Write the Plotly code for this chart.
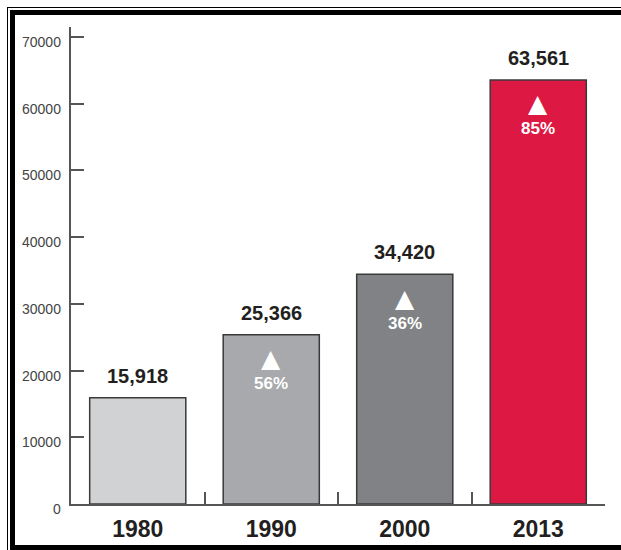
import plotly.graph_objects as go

years = ["1980", "1990", "2000", "2013"]
values = [15918, 25366, 34420, 63561]
value_labels = ["15,918", "25,366", "34,420", "63,561"]
pct_labels = ["", "56%", "36%", "85%"]
bar_colors = ["#d1d2d4", "#a7a9ac", "#808285", "#dc1843"]
ytick_vals = [0, 10000, 20000, 30000, 40000, 50000, 60000, 70000]

W, H = 621, 550
ML, MR, MT, MB = 71, 16, 27, 46
PW, PH = W - ML - MR, H - MT - MB

def px(x):
    return (x - ML) / PW

def py(y):
    return (H - MB - y) / PH

idx = list(range(len(years)))

fig = go.Figure()
fig.add_trace(go.Bar(
    x=idx, y=values, width=0.72,
    marker=dict(color=bar_colors, line=dict(color="#3a3a3a", width=1.5)),
    hoverinfo="skip", showlegend=False,
))

ann = []
for i, v, lab, p in zip(idx, values, value_labels, pct_labels):
    ann.append(dict(x=i, y=v, xref="x", yref="y", text=f"<b>{lab}</b>", showarrow=False,
                    yshift=22, yanchor="middle",
                    font=dict(family="Liberation Sans, Arial", size=20, color="#231f20")))
    if p:
        ann.append(dict(x=i, y=v, xref="x", yref="y", text="▲", showarrow=False,
                        yshift=-24, yanchor="middle",
                        font=dict(family="DejaVu Sans", size=25, color="white")))
        ann.append(dict(x=i, y=v, xref="x", yref="y", text=f"<b>{p}</b>", showarrow=False,
                        yshift=-49, yanchor="middle",
                        font=dict(family="Liberation Sans, Arial", size=17, color="white")))
for t in ytick_vals:
    ann.append(dict(x=0, y=t, xref="paper", yref="y", text=str(t), showarrow=False,
                    xanchor="right", yanchor="middle", xshift=-8, yshift=-5,
                    font=dict(family="Liberation Sans, Arial", size=14, color="#444444")))

shapes = [
    dict(type="line", xref="paper", yref="paper", x0=px(7), x1=px(621), y0=py(7.5), y1=py(7.5),
         line=dict(color="black", width=1)),
    dict(type="line", xref="paper", yref="paper", x0=px(7.5), x1=px(7.5), y0=py(7), y1=py(550),
         line=dict(color="black", width=1)),
    dict(type="rect", xref="paper", yref="paper", x0=px(10), x1=px(621), y0=py(10), y1=py(15),
         fillcolor="black", line=dict(width=0)),
    dict(type="rect", xref="paper", yref="paper", x0=px(10), x1=px(15), y0=py(10), y1=py(550),
         fillcolor="black", line=dict(width=0)),
    dict(type="rect", xref="paper", yref="paper", x0=px(10), x1=px(621), y0=py(545), y1=py(550),
         fillcolor="black", line=dict(width=0)),
]

fig.update_layout(
    width=W, height=H,
    margin=dict(l=ML, r=MR, t=MT, b=MB, autoexpand=False),
    paper_bgcolor="white", plot_bgcolor="white",
    annotations=ann, shapes=shapes,
    xaxis=dict(
        range=[-0.5, 3.5], showgrid=False, zeroline=False, automargin=False,
        showline=True, linecolor="#555555", linewidth=2,
        ticks="inside", ticklen=12, tickwidth=2, tickcolor="#555555",
        tickvals=[-0.5, 0.5, 1.5, 2.5, 3.5], ticktext=["", "", "", "", ""],
    ),
    xaxis2=dict(
        overlaying="x", matches="x", side="bottom", showgrid=False, zeroline=False,
        automargin=False,
        showline=False, ticks="", tickvals=idx, ticktext=years,
        tickfont=dict(family="Liberation Sans, Arial", size=23, color="#231f20", weight="bold"),
        ticklabelstandoff=9,
    ),
    yaxis=dict(
        range=[0, 71500], showgrid=False, zeroline=False, automargin=False,
        showline=True, linecolor="#555555", linewidth=2,
        ticks="inside", ticklen=13, tickwidth=2, tickcolor="#555555",
        tickvals=ytick_vals, showticklabels=False,
    ),
)
# invisible trace to activate the label axis
fig.add_trace(go.Scatter(x=idx, y=[0] * len(idx), xaxis="x2", mode="markers",
                         marker=dict(opacity=0), hoverinfo="skip", showlegend=False))

fig.write_html("out.html", config={"displayModeBar": False},
               post_script="document.body.style.margin='0';")
